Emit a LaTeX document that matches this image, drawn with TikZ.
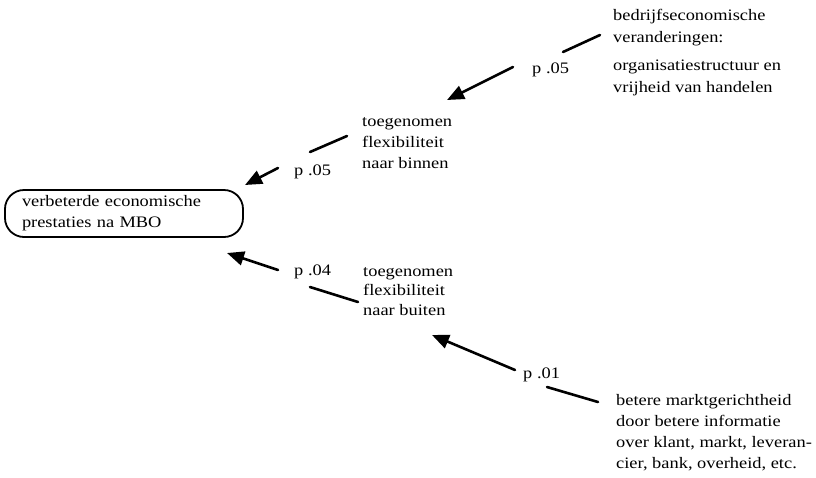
\documentclass[tikz,border=0pt]{standalone}
\usepackage{fontspec}
\setmainfont{Liberation Serif}[FakeStretch=1.15]
\usetikzlibrary{arrows.meta}
\begin{document}
\begin{tikzpicture}[x=1pt,y=-1pt,
  txt/.style={inner sep=0pt, anchor=north west, align=left},
  plabel/.style={inner sep=0pt, anchor=base west},
  link/.style={line width=2.6pt, line cap=round},
  arr/.style={line width=2.6pt, line cap=round, -{Triangle[length=17pt,width=14pt]}},
  goal/.style={draw, line width=1.8pt, rounded corners=19pt, minimum width=238pt,
    minimum height=47pt, align=left, text width=204pt, inner sep=0pt}]
  \fill[white] (0,0) rectangle (816,477);
  \useasboundingbox (0,0) rectangle (816,477);
  \fontsize{16}{21}\selectfont

  % outcome
  \node[goal] (mbo) at (124,213.5)
    {\fontsize{16}{19}\selectfont verbeterde economische\\prestaties na MBO};

  % intermediate factors
  \node[txt, font=\fontsize{16}{21}\selectfont] (binnen) at (362,117)
    {toegenomen\\flexibiliteit\\naar binnen};
  \node[txt, font=\fontsize{16}{19.5}\selectfont] (buiten) at (363,267)
    {toegenomen\\flexibiliteit\\naar buiten};

  % sources
  \node[txt, font=\fontsize{16}{22}\selectfont] (bedrijf) at (613,9)
    {bedrijfseconomische\\veranderingen:\\[6pt]organisatiestructuur en\\vrijheid van handelen};
  \node[txt, font=\fontsize{16}{21}\selectfont] (markt) at (616,394)
    {betere marktgerichtheid\\door betere informatie\\over klant, markt, leveran-\\cier, bank, overheid, etc.};

  % significance labels
  \node[plabel] (p1) at (532,73) {p .05};
  \node[plabel] (p2) at (294,175) {p .05};
  \node[plabel] (p3) at (294,275) {p .04};
  \node[plabel] (p4) at (523,378) {p .01};

  % connector end points
  \coordinate (b1) at (600,35);  \coordinate (b2) at (563,52);
  \coordinate (b3) at (513,67);  \coordinate (b4) at (447,100);
  \coordinate (n1) at (347,136); \coordinate (n2) at (310,152);
  \coordinate (n3) at (278,168); \coordinate (n4) at (245,185);
  \coordinate (u1) at (358,302); \coordinate (u2) at (310,287);
  \coordinate (u3) at (278,270); \coordinate (u4) at (227,253);
  \coordinate (m1) at (598,402); \coordinate (m2) at (547,387);
  \coordinate (m3) at (515,370); \coordinate (m4) at (432,335);

  % bedrijf -> binnen
  \draw[link] (b1) -- (b2);
  \draw[arr] (b3) -- (b4);
  % binnen -> mbo
  \draw[link] (n1) -- (n2);
  \draw[arr] (n3) -- (n4);
  % buiten -> mbo
  \draw[link] (u1) -- (u2);
  \draw[arr] (u3) -- (u4);
  % markt -> buiten
  \draw[link] (m1) -- (m2);
  \draw[arr] (m3) -- (m4);
\end{tikzpicture}
\end{document}
